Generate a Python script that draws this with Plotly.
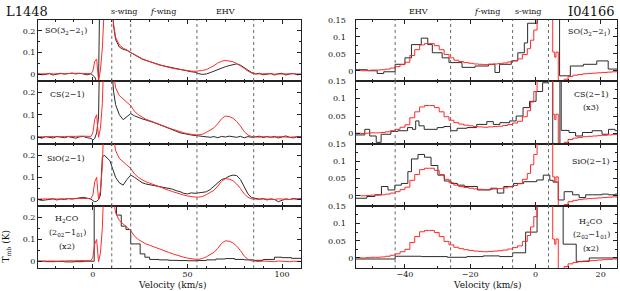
import plotly.graph_objects as go

# ================= DATA =================
# ---- L1448 (left column), velocity channels in km/s ----
VL = [-29, -27, -25, -23, -21, -19, -17, -15, -13, -11, -9, -7, -5, -3, -1,
      0, 1, 2, 3, 4, 5, 6, 7, 8, 9, 10, 11,
      12, 14, 16, 18, 20, 22, 24, 26, 28, 30, 32, 34, 36, 38, 40, 42, 44, 46, 48, 50,
      52, 54, 56, 58, 60, 62, 64, 66, 68, 70, 72, 74, 76, 78, 80, 82, 84, 86, 88, 90,
      92, 94, 96, 98, 100, 102, 104, 106, 108, 110]

SO_L1448 = [0.003, -0.002, 0.000, 0.004, -0.003, 0.002, 0.005, 0.001, 0.004, 0.006, 0.002, 0.005, 0.002, -0.002, 0.003,
            -0.005, -0.012, -0.035, -0.040, 0.600, 0.600, 0.600, 0.600, 0.600, 0.500, 0.320, 0.220,
            0.160, 0.125, 0.115, 0.110, 0.100, 0.088, 0.078, 0.070, 0.064, 0.058,
            0.052, 0.047, 0.042, 0.038, 0.034, 0.030, 0.026, 0.022, 0.020, 0.015,
            0.012, 0.010, 0.003, 0.000, 0.002, 0.008, 0.015, 0.022, 0.030, 0.035,
            0.040, 0.045, 0.048, 0.042, 0.030, 0.018, 0.008, 0.002, 0.005, -0.002,
            0.000, 0.004, -0.003, 0.003, 0.005, -0.003, 0.002, 0.004, -0.002, 0.000]

SO_REF_L1448 = [0.002, 0.003, 0.002, 0.003, 0.002, 0.004, 0.003, 0.004, 0.003, 0.004, 0.005, 0.004, 0.005, 0.004, 0.003,
                0.015, 0.060, 0.070, -0.030, 0.020, 0.120, 0.300, 0.600, 0.600, 0.600, 0.350, 0.225,
                0.170, 0.135, 0.120, 0.112, 0.100, 0.090, 0.080, 0.072, 0.065, 0.058,
                0.052, 0.046, 0.041, 0.036, 0.032, 0.028, 0.025, 0.022, 0.019, 0.017,
                0.015, 0.014, 0.015, 0.018, 0.022, 0.030, 0.040, 0.052, 0.060, 0.064,
                0.062, 0.058, 0.050, 0.040, 0.028, 0.015, 0.006, 0.002, 0.003, 0.001,
                0.002, 0.003, 0.001, 0.002, 0.003, 0.001, 0.002, 0.003, 0.002, 0.002]

CS_L1448 = [0.002, -0.004, 0.003, 0.000, -0.003, 0.004, 0.001, -0.002, 0.003, 0.000, -0.004, 0.002, 0.004, -0.002, -0.005,
            -0.012, -0.005, 0.020, 0.090, 0.600, 0.600, 0.600, 0.600, 0.600, 0.600, 0.300, 0.200,
            0.145, 0.100, 0.078, 0.092, 0.105, 0.095, 0.087, 0.082, 0.077, 0.073,
            0.066, 0.060, 0.054, 0.048, 0.042, 0.035, 0.027, 0.020, 0.016, 0.013,
            0.010, 0.008, 0.006, 0.003, 0.004, 0.000, 0.003, -0.002, 0.004, 0.001,
            0.005, 0.002, 0.000, 0.004, -0.002, 0.003, 0.000, 0.002, 0.005, -0.001,
            0.003, 0.000, 0.004, -0.003, 0.002, 0.006, 0.000, -0.003, 0.004, 0.002]

REF_L1448 = [0.002, 0.003, 0.002, 0.004, 0.003, 0.002, 0.004, 0.003, 0.004, 0.003, 0.004, 0.005, 0.004, 0.003, 0.004,
             0.020, 0.080, 0.100, 0.000, 0.040, 0.150, 0.400, 0.600, 0.600, 0.600, 0.600, 0.280,
             0.220, 0.185, 0.168, 0.155, 0.140, 0.115, 0.100, 0.088, 0.080, 0.074,
             0.067, 0.060, 0.054, 0.048, 0.042, 0.036, 0.030, 0.025, 0.020, 0.016,
             0.013, 0.011, 0.011, 0.014, 0.022, 0.032, 0.042, 0.060, 0.082, 0.094,
             0.092, 0.085, 0.070, 0.050, 0.025, 0.010, 0.003, 0.002, 0.000, 0.003,
             0.001, 0.002, 0.000, 0.003, 0.001, 0.002, 0.000, 0.002, 0.003, 0.001]

SIO_L1448 = [0.000, -0.004, -0.002, 0.000, 0.003, -0.002, 0.002, 0.000, 0.004, 0.002, 0.005, 0.008, 0.010, 0.006, 0.002,
             -0.005, -0.010, -0.008, 0.000, 0.020, 0.190, 0.200, 0.190, 0.180, 0.175, 0.150, 0.120,
             0.100, 0.075, 0.065, 0.090, 0.110, 0.100, 0.088, 0.076, 0.070, 0.067,
             0.065, 0.060, 0.057, 0.054, 0.050, 0.047, 0.040, 0.036, 0.028, 0.025,
             0.030, 0.028, 0.030, 0.032, 0.035, 0.045, 0.060, 0.078, 0.090, 0.095,
             0.105, 0.110, 0.108, 0.090, 0.060, 0.025, 0.008, 0.005, 0.002, 0.004,
             -0.002, 0.003, 0.000, -0.010, -0.004, 0.003, 0.000, 0.005, 0.002, 0.004]

VH_L1448 = [-29, -25, -20, -15, -10, -5, 0.7, 12.5, 15, 17.5, 20, 22.5, 25, 27.5, 30, 35, 40, 45,
            50, 55, 60, 65, 70, 75, 80, 85, 90, 96, 100, 105, 110]
H2CO_L1448 = [0.002, 0.000, 0.001, -0.001, 0.000, 0.002, 0.600, 0.210, 0.160, 0.145, 0.080, 0.080, 0.035,
              0.020, 0.010, 0.008, 0.006, 0.005, 0.004, 0.005, 0.008, 0.012, 0.014, 0.010, 0.008, 0.006,
              0.010, 0.020, 0.018, 0.015, 0.015]

# ---- I04166 (right column) ----
VR = [-55, -53.5, -52, -50.5, -49, -47.5, -46, -44.5, -43, -41.5,
      -40, -38.5, -37, -35.5, -34, -32.5, -31, -29.5, -28, -26.5,
      -25, -23.5, -22, -20.5, -19, -17.5, -16, -14.5, -13, -11.5,
      -10, -8.5, -7, -5.5, -4, -2.5, -1.5, -0.5, 0.5, 1.5,
      5.3, 5.9, 6.3, 7.0, 8.8, 10, 11.5, 13, 14.5, 16, 17.5, 19, 20.5, 22, 23.5, 25]
REF_I04166 = [0.001, 0.000, 0.001, 0.002, 0.002, 0.003, 0.005, 0.008, 0.012, 0.018,
              0.025, 0.045, 0.062, 0.076, 0.080, 0.080, 0.074, 0.062, 0.048, 0.038,
              0.031, 0.027, 0.024, 0.022, 0.020, 0.019, 0.018, 0.019, 0.020, 0.021,
              0.023, 0.026, 0.030, 0.035, 0.048, 0.065, 0.090, 0.120, 0.160, 0.600,
              0.055, 0.040, 0.055, -0.060, -0.025, -0.017, -0.013, -0.011, -0.009, -0.008,
              -0.007, -0.006, -0.005, -0.004, -0.003, -0.003]

V_SO_I = [-55, -51.5, -48.5, -46.5, -43, -40, -38, -35, -33, -31.6, -28.6, -26.5, -22.5, -18.5,
          -14.4, -12.4, -11, -7.4, -5.4, -3.4, -2.4, 0.6, 7.4, 10.7, 14.7, 18.8, 22.3, 25]
SO_I04166 = [0.003, 0.000, -0.008, -0.003, 0.019, 0.038, 0.077, 0.096, 0.077, 0.053, 0.038, 0.024, 0.010, 0.014,
             0.019, -0.005, 0.019, 0.029, 0.053, 0.082, 0.140, 0.600, -0.015, 0.014, 0.019, 0.029, 0.005, 0.005]

V_CS_I = [-55, -52.3, -50.8, -48.8, -47.3, -44.3, -42.2, -39.2, -37.7, -36.7,
          -35.7, -34.1, -30.1, -28.1, -26, -24, -21, -18, -14.9, -12.9,
          -10.9, -7.9, -5.9, -3.8, -1.8, 0.2, 2.2, 4, 5.3, 7.5,
          7.9, 10.3, 12.3, 14.4, 17.4, 20.4, 22.4, 24.4, 25]
CS_I04166 = [-0.004, 0.012, -0.007, -0.025, -0.002, 0.006, 0.008, 0.017, 0.012, 0.036,
             0.022, 0.012, 0.017, 0.020, 0.008, 0.015, 0.017, 0.026, 0.034, 0.026,
             0.031, 0.036, 0.050, 0.074, 0.092, 0.120, 0.145, 0.600, -0.100, 0.600,
             0.009, 0.003, -0.007, 0.003, 0.008, -0.002, 0.012, 0.008, 0.008]

V_SIO_I = [-55, -51.7, -49.2, -47.2, -45.2, -43.1, -41.1, -39.1, -38, -36,
           -34, -32, -29.9, -27.9, -25.9, -23.9, -21.8, -17.8, -13.7, -11.7,
           -9.7, -6.7, -3.6, 0.4, 2.4, 4.4, 5.4, 7.0, 8.8, 11.4,
           13.4, 15.4, 17.4, 20.4, 22.4, 24.4, 25]
SIO_I04166 = [-0.007, -0.002, 0.003, 0.027, 0.017, 0.031, 0.036, 0.070, 0.107, 0.120,
              0.112, 0.088, 0.060, 0.043, 0.036, 0.031, 0.027, 0.017, 0.022, 0.008,
              0.027, 0.036, 0.041, 0.046, 0.060, 0.045, 0.040, -0.012, 0.012, 0.003,
              -0.005, 0.003, 0.003, 0.005, 0.003, 0.005, 0.005]

V_H2CO_I = [-55, -43, -35, -27, -21, -16, -11, -7, -3, 0.5, 8.5, 12.5, 16.5, 25]
H2CO_I04166 = [-0.003, 0.005, 0.004, 0.002, 0.004, 0.006, 0.004, 0.015, 0.075, 0.600, 0.040, -0.010, 0.000, 0.000]

# velocity-interval boundaries (dotted lines)
BOUNDS_L1448 = [10, 20, 55, 85]
BOUNDS_I04166 = [-43, -26, -7, 4]

# ================= FIGURE =================
W, H = 620, 291
def fx(px): return px / W
def fy(py): return 1 - py / H

COLS = [(38, 301), (356, 617)]
ROWS = [(16, 78), (78, 142), (142, 205), (205, 268)]
BLACK = "#2b2b2b"
RED = "#ff2a2a"
FONT = "DejaVu Serif"

fig = go.Figure()
layout = {}

left_series = [
    (VL, SO_L1448, VL, SO_REF_L1448, "linear"),
    (VL, CS_L1448, VL, REF_L1448, "linear"),
    (VL, SIO_L1448, VL, REF_L1448, "linear"),
    (VH_L1448, H2CO_L1448, VL, REF_L1448, "hv"),
]
right_series = [
    (V_SO_I, SO_I04166),
    (V_CS_I, CS_I04166),
    (V_SIO_I, SIO_I04166),
    (V_H2CO_I, H2CO_I04166),
]

shapes = []
for r in range(4):
    for c in range(2):
        idx = 2 * r + c + 1
        xs = "x" if idx == 1 else f"x{idx}"
        ys = "y" if idx == 1 else f"y{idx}"
        xk = "xaxis" if idx == 1 else f"xaxis{idx}"
        yk = "yaxis" if idx == 1 else f"yaxis{idx}"
        x0, x1 = COLS[c]
        y0, y1 = ROWS[r]
        common = dict(ticks="inside", mirror="allticks", showline=True, linecolor="#222",
                      linewidth=1, showgrid=False, zeroline=False, tickcolor="#222",
                      tickfont=dict(family=FONT, size=8, color="#111"))
        if c == 0:
            xa = dict(domain=[fx(x0), fx(x1)], anchor=ys, range=[-29, 110],
                      tickvals=[0, 50, 100], ticklen=4, ticklabelstandoff=-2,
                      minor=dict(ticks="inside", ticklen=2, tickvals=[-20, -10, 10, 20, 30, 40, 60, 70, 80, 90, 110],
                                 tickcolor="#222"),
                      showticklabels=(r == 3), **common)
            ya = dict(domain=[fy(y1), fy(y0)], anchor=xs, range=[-0.03, 0.25],
                      tickvals=[0, 0.1, 0.2], ticktext=["0", "0.1", "0.2"], ticklen=4,
                      minor=dict(ticks="inside", ticklen=2, tickvals=[0.05, 0.15], tickcolor="#222"),
                      **common)
        else:
            xa = dict(domain=[fx(x0), fx(x1)], anchor=ys, range=[-55, 25],
                      tickvals=[-40, -20, 0, 20], ticktext=["\u221240", "\u221220", "0", "20"], ticklen=4,
                      ticklabelstandoff=-2,
                      minor=dict(ticks="inside", ticklen=2,
                                 tickvals=[-50, -30, -10, 10], tickcolor="#222"),
                      showticklabels=(r == 3), **common)
            pad = "\u00a0\u00a0\u00a0"
            ya = dict(domain=[fy(y1), fy(y0)], anchor=xs, range=[-0.03, 0.1502],
                      tickvals=[0, 0.05, 0.1, 0.15],
                      ticktext=["0", "0.05" + pad, "0.1" + pad, "0.15" + pad], ticklen=4,
                      minor=dict(ticks="inside", ticklen=2, tickvals=[0.025, 0.075, 0.125], tickcolor="#222"),
                      **common)
        layout[xk] = xa
        layout[yk] = ya

        if c == 0:
            bx, by, rx, ry, shp = left_series[r]
            fig.add_trace(go.Scatter(x=bx, y=by, mode="lines", line=dict(color=BLACK, width=1, shape=shp),
                                     xaxis=xs, yaxis=ys, showlegend=False, hoverinfo="skip"))
            fig.add_trace(go.Scatter(x=rx, y=ry, mode="lines", line=dict(color=RED, width=1),
                                     xaxis=xs, yaxis=ys, showlegend=False, hoverinfo="skip"))
            bounds = BOUNDS_L1448
        else:
            bx, by = right_series[r]
            fig.add_trace(go.Scatter(x=bx, y=by, mode="lines", line=dict(color=BLACK, width=1, shape="hv"),
                                     xaxis=xs, yaxis=ys, showlegend=False, hoverinfo="skip"))
            fig.add_trace(go.Scatter(x=VR, y=REF_I04166, mode="lines", line=dict(color=RED, width=1, shape="hv"),
                                     xaxis=xs, yaxis=ys, showlegend=False, hoverinfo="skip"))
            bounds = BOUNDS_I04166
        for b in bounds:
            shapes.append(dict(type="line", xref=xs, yref=f"{ys} domain", x0=b, x1=b, y0=0, y1=1,
                               line=dict(color="#666", width=1, dash="dot")))

ann = []
def add(text, px, py, size=8, xanchor="center", angle=0):
    ann.append(dict(text=text, x=fx(px), y=fy(py), xref="paper", yref="paper", showarrow=False,
                    xanchor=xanchor, yanchor="middle", textangle=angle,
                    font=dict(family=FONT, size=size, color="#111")))

add("L1448", 4, 8, size=13, xanchor="left")
add("I04166", 617, 8, size=13, xanchor="right")
add("s-wing", 124, 8)
add("<i>f</i>-wing", 163, 8)
add("EHV", 225, 8)
add("EHV", 418, 8)
add("<i>f</i>-wing", 487, 8)
add("s-wing", 528, 8)

add("SO(3<sub>2</sub>\u22122<sub>1</sub>)", 43, 27, xanchor="left")
add("SO(3<sub>2</sub>\u22122<sub>1</sub>)", 612, 28, xanchor="right")
add("CS(2\u22121)", 48, 92, xanchor="left")
add("CS(2\u22121)", 591, 92)
add("(x3)", 591, 105)
add("SiO(2\u22121)", 45, 157, xanchor="left")
add("SiO(2\u22121)", 591, 160)
add("H<sub>2</sub>CO", 67, 218)
add("(2<sub>02</sub>\u22121<sub>01</sub>)", 67, 232)
add("(x2)", 67, 246)
add("H<sub>2</sub>CO", 591, 221)
add("(2<sub>02</sub>\u22121<sub>01</sub>)", 591, 234)
add("(x2)", 591, 248)

add("T<sub>mb</sub> (K)", 7, 246, size=9, angle=-90)
add("Velocity (km/s)", 172, 285, size=9)
add("Velocity (km/s)", 487, 285, size=9)

fig.update_layout(width=W, height=H, margin=dict(l=0, r=0, t=0, b=0),
                  paper_bgcolor="white", plot_bgcolor="white",
                  annotations=ann, shapes=shapes, showlegend=False, **layout)
fig.write_html("out.html", config={"displayModeBar": False},
               post_script="document.body.style.margin='0px';document.body.style.overflow='hidden';")
